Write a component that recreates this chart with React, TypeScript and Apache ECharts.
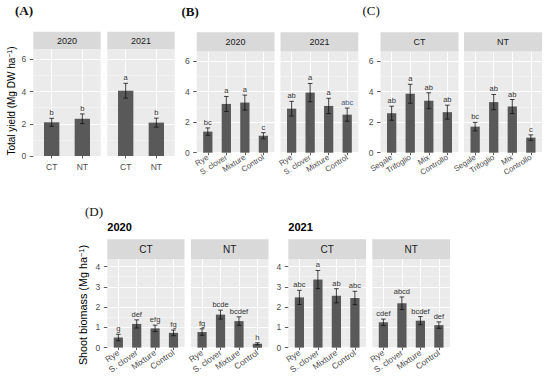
import React, { useEffect, useRef } from 'react';
import * as echarts from 'echarts';

// ---------- data ----------
const years = ['2020', '2021'];
const tillage = ['CT', 'NT'];
const coverCrops = ['Rye', 'S. clover', 'Mixture', 'Control'];
const coverCropsIt = ['Segale', 'Trifoglio', 'Mix', 'Controllo'];

// (A) total yield by tillage
const yieldA2020 = [2.09, 2.31];
const errA2020 = [0.25, 0.3];
const letA2020 = ['b', 'b'];
const yieldA2021 = [4.05, 2.07];
const errA2021 = [0.46, 0.28];
const letA2021 = ['a', 'b'];

// (B) total yield by cover crop
const yieldB2020 = [1.38, 3.19, 3.28, 1.11];
const errB2020 = [0.24, 0.49, 0.49, 0.2];
const letB2020 = ['bc', 'a', 'a', 'c'];
const yieldB2021 = [2.88, 3.93, 3.06, 2.49];
const errB2021 = [0.48, 0.6, 0.5, 0.43];
const letB2021 = ['ab', 'a', 'a', 'abc'];

// (C) total yield by cover crop within tillage
const yieldCCT = [2.59, 3.87, 3.41, 2.66];
const errCCT = [0.46, 0.62, 0.52, 0.46];
const letCCT = ['ab', 'a', 'ab', 'ab'];
const yieldCNT = [1.71, 3.32, 3.03, 0.99];
const errCNT = [0.28, 0.5, 0.46, 0.18];
const letCNT = ['bc', 'ab', 'ab', 'c'];

// (D) shoot biomass
const bioCT2020 = [0.5, 1.17, 0.95, 0.73];
const errCT2020 = [0.16, 0.2, 0.16, 0.14];
const letCT2020 = ['g', 'def', 'efg', 'fg'];
const bioNT2020 = [0.77, 1.63, 1.31, 0.19];
const errNT2020 = [0.16, 0.22, 0.21, 0.05];
const letNT2020 = ['fg', 'bcde', 'bcdef', 'h'];
const bioCT2021 = [2.48, 3.36, 2.56, 2.45];
const errCT2021 = [0.35, 0.45, 0.35, 0.33];
const letCT2021 = ['abc', 'a', 'ab', 'abc'];
const bioNT2021 = [1.25, 2.19, 1.33, 1.11];
const errNT2021 = [0.16, 0.31, 0.2, 0.16];
const letNT2021 = ['cdef', 'abcd', 'bcdef', 'def'];

const ticksYield = [0, 2, 4, 6];
const minorYield = [1, 3, 5];
const ticksBio = [0, 1, 2, 3, 4];
const minorBio = [0.5, 1.5, 2.5, 3.5];

// ---------- layout ----------
const SANS = 'Liberation Sans, Arial, sans-serif';
const SERIF = 'Liberation Serif, Times New Roman, serif';

type Panel = {
  left: number; top: number; width: number; height: number; stripTop: number;
  ymax: number; cats: string[]; vals: number[]; errs: number[]; letters: string[];
  strip: string; yLabels: boolean; rotate: number; xFont: number; major: number[]; minor: number[];
  stripFont: number;
};

const panels: Panel[] = [
  { left: 33.3, top: 49.3, width: 67.4, height: 106.7, stripTop: 31.7, ymax: 6.62, cats: tillage, vals: yieldA2020, errs: errA2020, letters: letA2020, strip: years[0], yLabels: true, rotate: 0, xFont: 8.5, major: ticksYield, minor: minorYield, stripFont: 9 },
  { left: 107.3, top: 49.3, width: 67.4, height: 106.7, stripTop: 31.7, ymax: 6.62, cats: tillage, vals: yieldA2021, errs: errA2021, letters: letA2021, strip: years[1], yLabels: false, rotate: 0, xFont: 8.5, major: ticksYield, minor: minorYield, stripFont: 9 },
  { left: 196.7, top: 51.5, width: 77.8, height: 101.2, stripTop: 32.3, ymax: 6.62, cats: coverCrops, vals: yieldB2020, errs: errB2020, letters: letB2020, strip: years[0], yLabels: true, rotate: 32, xFont: 7.8, major: ticksYield, minor: minorYield, stripFont: 9 },
  { left: 280.5, top: 51.5, width: 77.8, height: 101.2, stripTop: 32.3, ymax: 6.62, cats: coverCrops, vals: yieldB2021, errs: errB2021, letters: letB2021, strip: years[1], yLabels: false, rotate: 32, xFont: 7.8, major: ticksYield, minor: minorYield, stripFont: 9 },
  { left: 380.5, top: 51.5, width: 78, height: 101.2, stripTop: 32.3, ymax: 6.64, cats: coverCropsIt, vals: yieldCCT, errs: errCCT, letters: letCCT, strip: tillage[0], yLabels: true, rotate: 32, xFont: 7.8, major: ticksYield, minor: minorYield, stripFont: 9 },
  { left: 464, top: 51.5, width: 78, height: 101.2, stripTop: 32.3, ymax: 6.64, cats: coverCropsIt, vals: yieldCNT, errs: errCNT, letters: letCNT, strip: tillage[1], yLabels: false, rotate: 32, xFont: 7.8, major: ticksYield, minor: minorYield, stripFont: 9 },
  { left: 107.3, top: 259, width: 77.2, height: 93.3, stripTop: 239.3, ymax: 4.375, cats: coverCrops, vals: bioCT2020, errs: errCT2020, letters: letCT2020, strip: tillage[0], yLabels: true, rotate: 35, xFont: 8.5, major: ticksBio, minor: minorBio, stripFont: 10 },
  { left: 191, top: 259, width: 77.5, height: 93.3, stripTop: 239.3, ymax: 4.375, cats: coverCrops, vals: bioNT2020, errs: errNT2020, letters: letNT2020, strip: tillage[1], yLabels: false, rotate: 35, xFont: 8.5, major: ticksBio, minor: minorBio, stripFont: 10 },
  { left: 288.3, top: 259, width: 77.7, height: 93.3, stripTop: 239.3, ymax: 4.375, cats: coverCrops, vals: bioCT2021, errs: errCT2021, letters: letCT2021, strip: tillage[0], yLabels: true, rotate: 35, xFont: 8.5, major: ticksBio, minor: minorBio, stripFont: 10 },
  { left: 372.3, top: 259, width: 77.7, height: 93.3, stripTop: 239.3, ymax: 4.375, cats: coverCrops, vals: bioNT2021, errs: errNT2021, letters: letNT2021, strip: tillage[1], yLabels: false, rotate: 35, xFont: 8.5, major: ticksBio, minor: minorBio, stripFont: 10 },
];

function buildOption(): any {
  const grid: any[] = [];
  const xAxis: any[] = [];
  const yAxis: any[] = [];
  const series: any[] = [];
  const graphic: any[] = [];

  panels.forEach((p, i) => {
    const n = p.cats.length;
    const pos = p.cats.map((_, k) => k + 1);
    grid.push({ left: p.left, top: p.top, width: p.width, height: p.height, show: true, backgroundColor: '#EBEBEB', borderWidth: 0 });
    xAxis.push({
      type: 'value', gridIndex: i, min: 0.4, max: n + 0.6,
      axisLine: { show: false },
      axisTick: { show: true, length: 2.5, customValues: pos, lineStyle: { color: '#333333', width: 0.8 } },
      axisLabel: {
        customValues: pos, rotate: p.rotate, margin: p.rotate ? 4 : 6,
        fontSize: p.xFont, color: '#4D4D4D', fontFamily: SANS,
        formatter: (v: number) => (Math.abs(v - Math.round(v)) < 1e-6 ? p.cats[Math.round(v) - 1] ?? '' : ''),
      },
      splitLine: { show: true, lineStyle: { color: '#FFFFFF', width: 1 } },
    });
    const majorInterval = p.major[1] - p.major[0];
    yAxis.push({
      type: 'value', gridIndex: i, min: 0, max: p.ymax, interval: majorInterval,
      axisLine: { show: false },
      axisTick: { show: p.yLabels, length: 3.5, customValues: p.major, lineStyle: { color: '#333333', width: 0.8 } },
      axisLabel: { show: p.yLabels, customValues: p.major, margin: 7, fontSize: 8.5, color: '#4D4D4D', fontFamily: SANS },
      splitLine: { show: true, lineStyle: { color: '#FFFFFF', width: 1 } },
    });
    yAxis.push({
      type: 'value', gridIndex: i, min: 0, max: p.ymax, interval: majorInterval / 2, position: 'left',
      axisLine: { show: false },
      axisTick: { show: false, customValues: p.minor },
      axisLabel: { show: false, customValues: p.minor },
      splitLine: { show: true, lineStyle: { color: '#F7F7F7', width: 0.6 } },
    });
    const bw = (0.5 * p.width) / (n + 0.2);
    series.push({
      type: 'bar', xAxisIndex: i, yAxisIndex: 2 * i, barWidth: bw, z: 2,
      itemStyle: { color: '#595959' },
      data: p.vals.map((v, k) => [k + 1, v]),
    });
    series.push({
      type: 'custom', xAxisIndex: i, yAxisIndex: 2 * i, z: 3,
      encode: { x: 0, y: [1, 2] },
      data: p.vals.map((v, k) => [k + 1, v - p.errs[k], v + p.errs[k]]),
      renderItem: (params: any, api: any) => {
        const x = api.value(0);
        const top = api.coord([x, api.value(2)]);
        const bot = api.coord([x, api.value(1)]);
        const hw = 2.3;
        const ls = { stroke: '#111111', lineWidth: 0.8 };
        const letter = p.letters[params.dataIndex];
        const blue = i === 3 && params.dataIndex === 3;
        return {
          type: 'group',
          children: [
            { type: 'line', shape: { x1: top[0], y1: top[1], x2: bot[0], y2: bot[1] }, style: ls },
            { type: 'line', shape: { x1: top[0] - hw, y1: top[1], x2: top[0] + hw, y2: top[1] }, style: ls },
            { type: 'line', shape: { x1: bot[0] - hw, y1: bot[1], x2: bot[0] + hw, y2: bot[1] }, style: ls },
            {
              type: 'text', x: top[0], y: top[1] - 1.5,
              style: { text: letter, textAlign: 'center', textVerticalAlign: 'bottom', fontSize: 7.5, fontFamily: SANS, fill: blue ? '#4A5A86' : '#333333' },
            },
          ],
        };
      },
    });
    graphic.push({
      type: 'rect', shape: { x: p.left, y: p.stripTop, width: p.width, height: p.top - p.stripTop },
      style: { fill: '#D9D9D9' }, z: 1,
    });
    graphic.push({
      type: 'text', x: p.left + p.width / 2, y: (p.stripTop + p.top) / 2, z: 2,
      style: { text: p.strip, textAlign: 'center', textVerticalAlign: 'middle', fontSize: p.stripFont, fontFamily: SANS, fill: '#1A1A1A' },
    });
  });

  const panelLabels = [
    { t: '(A)', x: 15, y: 10, bold: true },
    { t: '(B)', x: 181.5, y: 11, bold: true },
    { t: '(C)', x: 362.5, y: 10, bold: false },
    { t: '(D)', x: 85, y: 211.7, bold: false },
  ];
  panelLabels.forEach((l) => {
    graphic.push({
      type: 'text', x: l.x, y: l.y,
      style: { text: l.t, textAlign: 'left', textVerticalAlign: 'middle', fontSize: 13, fontWeight: l.bold ? 'bold' : 'normal', fontFamily: SERIF, fill: '#111111' },
    });
  });
  [{ t: years[0], x: 107.3 }, { t: years[1], x: 288.3 }].forEach((l) => {
    graphic.push({
      type: 'text', x: l.x, y: 227,
      style: { text: l.t, textAlign: 'left', textVerticalAlign: 'middle', fontSize: 11, fontWeight: 'bold', fontFamily: SANS, fill: '#000000' },
    });
  });
  const yTitles = [
    { t: 'Total yield (Mg DW ha{sup|\u22121})', x: 11, y: 101, fs: 10 },
    { t: 'Shoot biomass (Mg ha{sup|\u22121})', x: 82.5, y: 305, fs: 10.8 },
  ];
  yTitles.forEach((l) => {
    graphic.push({
      type: 'text', x: l.x, y: l.y, rotation: Math.PI / 2,
      style: {
        text: l.t, textAlign: 'center', textVerticalAlign: 'middle', fontSize: l.fs, fontFamily: SANS, fill: '#000000',
        rich: { sup: { fontSize: l.fs * 0.7, verticalAlign: 'top', fontFamily: SANS, fill: '#000000' } },
      },
    });
  });

  return { animation: false, backgroundColor: '#FFFFFF', grid, xAxis, yAxis, series, graphic };
}

export default function App() {
  const ref = useRef<HTMLDivElement>(null);
  useEffect(() => {
    if (!ref.current) return;
    const chart = echarts.init(ref.current, undefined, { renderer: 'svg' });
    chart.setOption(buildOption());
    return () => chart.dispose();
  }, []);
  return <div ref={ref} style={{ position: 'absolute', left: 0, top: 0, width: 550, height: 376 }} />;
}
